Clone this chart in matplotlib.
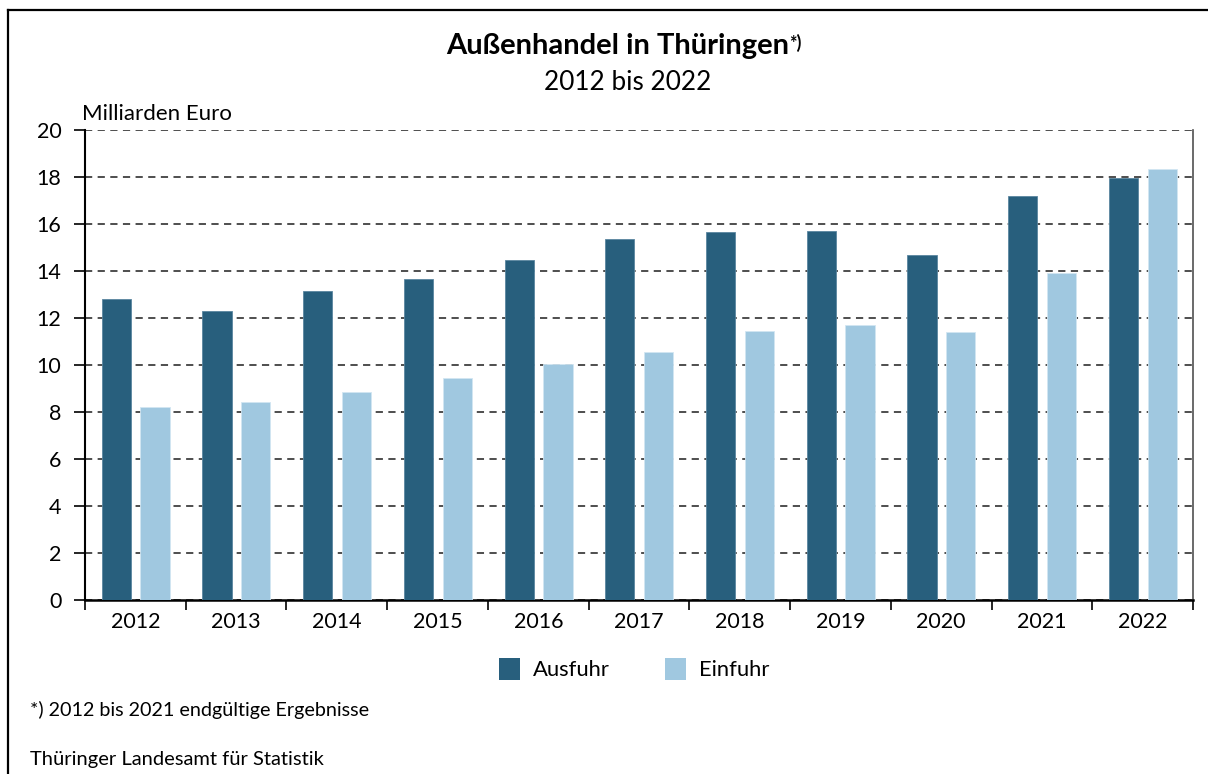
import numpy as np
import matplotlib
matplotlib.use("Agg")
import matplotlib.pyplot as plt
from matplotlib.lines import Line2D
from matplotlib.patches import Patch

plt.rcParams['font.family'] = ['Lato', 'DejaVu Sans']

years = ['2012', '2013', '2014', '2015', '2016', '2017', '2018', '2019', '2020', '2021', '2022']
ausfuhr = [12.80, 12.30, 13.16, 13.66, 14.48, 15.35, 15.66, 15.69, 14.67, 17.18, 17.96]
einfuhr = [8.21, 8.44, 8.83, 9.44, 10.06, 10.57, 11.45, 11.72, 11.40, 13.91, 18.33]
yticks = [0, 2, 4, 6, 8, 10, 12, 14, 16, 18, 20]

c_aus = '#285f7d'
c_ein = '#a0c8e0'

W, H = 1208, 774
fig = plt.figure(figsize=(W / 100, H / 100), dpi=100)
ax = fig.add_axes([85 / W, 1 - 600 / H, (1193 - 85) / W, (600 - 130) / H])

x = np.arange(len(years))
ax.bar(x - 0.19, ausfuhr, width=0.29, color=c_aus, edgecolor='#5a86a0', linewidth=0.6, zorder=3)
ax.bar(x + 0.195, einfuhr, width=0.29, color=c_ein, edgecolor='#d2e6f2', linewidth=0.6, zorder=3)

ax.set_xlim(-0.5, len(years) - 0.5)
ax.set_ylim(0, 20)
ax.set_yticks(yticks)
ax.set_yticklabels([str(v) for v in yticks], fontsize=15.5)
ax.yaxis.grid(True, linestyle=(0, (4, 3)), color='#404040', linewidth=1.3, zorder=1)

ax.set_xticks(np.arange(len(years) + 1) - 0.5)
ax.set_xticklabels([])
ax.set_xticks(x, minor=True)
ax.set_xticklabels(years, minor=True, fontsize=15.5)
ax.tick_params(axis='x', which='major', length=7, width=1.2, direction='out')
ax.tick_params(axis='x', which='minor', length=0, pad=9)
ax.tick_params(axis='y', length=8, width=1.2, pad=9)

ax.spines['top'].set_visible(False)
ax.spines['left'].set_linewidth(1.5)
ax.spines['bottom'].set_linewidth(1.8)
ax.spines['right'].set_color('#505050')
ax.spines['right'].set_linewidth(1.2)

# frame lines of the graphic
fig.add_artist(Line2D([8 / W, 8 / W], [0, 1 - 10 / H], color='black', linewidth=1.6))
fig.add_artist(Line2D([8 / W, 1], [1 - 10 / H, 1 - 10 / H], color='black', linewidth=1.6))

# titles
t = fig.text(618 / W, 1 - 46 / H, 'Außenhandel in Thüringen', fontsize=21, fontweight='bold',
             ha='center', va='center')
fig.canvas.draw()
bb = t.get_window_extent()
fig.text(bb.x1 / W, bb.y1 / H - 1 / H, '*)', fontsize=13, fontweight='bold', ha='left', va='top')
fig.text(628 / W, 1 - 83 / H, '2012 bis 2022', fontsize=18.8, ha='center', va='center')
fig.text(82 / W, 1 - 114 / H, 'Milliarden Euro', fontsize=16, ha='left', va='center')

handles = [Patch(facecolor=c_aus, edgecolor='none'), Patch(facecolor=c_ein, edgecolor='none')]
fig.legend(handles, ['Ausfuhr', 'Einfuhr'], loc='center', bbox_to_anchor=(634 / W, 1 - 669 / H),
           ncol=2, frameon=False, fontsize=15.8, handlelength=0.95, handleheight=1.2,
           handletextpad=0.6, columnspacing=2.5)

fig.text(30 / W, 1 - 710 / H, '*) 2012 bis 2021 endgültige Ergebnisse', fontsize=14.2, ha='left', va='center')
fig.text(30 / W, 1 - 760 / H, 'Thüringer Landesamt für Statistik', fontsize=14.5, ha='left', va='center')

fig.savefig('out.png', dpi=100)
